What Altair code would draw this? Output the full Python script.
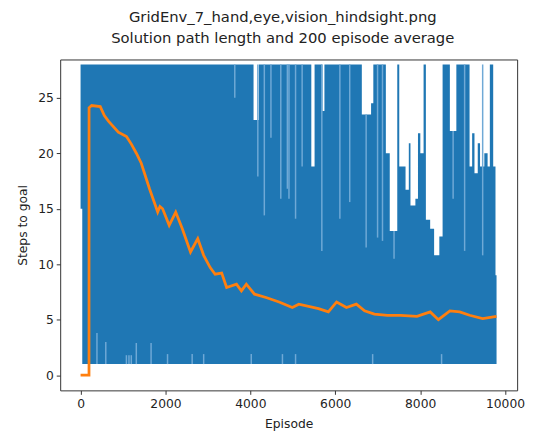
import altair as alt
import pandas as pd

# Upper / lower envelope of the per-episode "steps to goal" trace (step segments)
env_episode = [0, 40, 4075, 4199, 5436, 5513, 5698, 5745, 6626, 6844, 6897,
               7192, 7284, 7461, 7508, 7656, 7733, 7772, 7888, 7949, 8004,
               8081, 8135, 8236, 8329, 8452, 8529, 8700, 8853, 9164, 9225,
               9280, 9357, 9411, 9512, 9589, 9642, 9721, 9775, 9800]
env_top = [28, 28, 23, 28, 18.8, 28, 23.8, 28, 23.5, 24.5, 28,
           20.0, 13.0, 28, 18.8, 16.7, 20.9, 15.3, 15.9, 21.8, 20.0,
           28, 14.0, 13.2, 10.8, 12.5, 28, 22.0, 28, 18.8, 21.8,
           18.2, 20.9, 18.8, 20.0, 18.8, 28, 18.8, 9.0, 9.0]
env_low = [15, 1, 1, 1, 1, 1, 1, 1, 1, 1, 1,
           1, 1, 1, 1, 1, 1, 1, 1, 1, 1,
           1, 1, 1, 1, 1, 1, 1, 1, 1, 1,
           1, 1, 1, 1, 1, 1, 1, 1, 1]

# Sparser stretches of the trace (lighter streaks inside the dense band)
streak_episode = [3633, 4176, 4329, 4485, 4717, 4872, 4910, 5065, 5220, 5684,
                  6109, 6341, 6728, 6997, 7113, 7385, 8777, 9048, 9473,
                  386, 594, 1080, 1140, 1195, 1313, 1661, 2049, 2629, 2900,
                  4021, 4756, 5065, 6881, 8505]
streak_top = [28, 28, 28, 28, 28, 28, 28, 28, 28, 28,
              28, 28, 23.5, 28, 28, 13.0, 22.0, 28, 28,
              3.8, 3.0, 1.8, 1.8, 1.8, 2.9, 2.9, 1.9, 1.9, 1.9,
              1.9, 1.9, 1.9, 1.9, 1.9]
streak_bottom = [25.0, 17.9, 14.4, 21.4, 15.9, 16.8, 15.9, 14.1, 18.8, 11.2,
                 14.1, 15.6, 11.5, 12.4, 12.1, 10.5, 15.9, 11.2, 10.8,
                 1, 1, 1, 1, 1, 1, 1, 1, 1, 1,
                 1, 1, 1, 1, 1]

# 200-episode running average
avg_episode = [0, 199, 200, 260, 464, 560, 657, 889, 1082, 1200, 1314, 1430,
               1624, 1817, 1870, 1933, 2088, 2242, 2397, 2590, 2761, 2900,
               3054, 3170, 3325, 3441, 3673, 3789, 3905, 4098, 4369, 4677,
               4988, 5142, 5606, 5838, 6032, 6264, 6497, 6690, 6921, 7230,
               7540, 7926, 8237, 8430, 8700, 8933, 9165, 9473, 9800]
avg_value = [0, 0, 24.1, 24.3, 24.2, 23.4, 22.9, 21.9, 21.5, 20.8, 20.0, 19.1,
             16.8, 14.7, 15.2, 15.0, 13.5, 14.7, 13.2, 11.1, 12.3, 10.8,
             9.7, 9.1, 9.2, 7.9, 8.2, 7.6, 8.2, 7.3, 7.0, 6.6,
             6.1, 6.4, 6.0, 5.7, 6.6, 6.1, 6.4, 5.8, 5.5, 5.4,
             5.4, 5.3, 5.7, 5.0, 5.8, 5.7, 5.4, 5.1, 5.3]

x_ticks = [0, 2000, 4000, 6000, 8000, 10000]
y_ticks = [0, 5, 10, 15, 20, 25]

env_df = pd.DataFrame({"episode": env_episode, "top": env_top, "low": env_low})
streak_df = pd.DataFrame({"episode": streak_episode, "top": streak_top,
                          "bottom": streak_bottom})
avg_df = pd.DataFrame({"episode": avg_episode, "avg": avg_value})

FONT = "DejaVu Sans"
xscale = alt.Scale(domain=[-480, 10285], nice=False, zero=False)
yscale = alt.Scale(domain=[-1.37, 28.45], nice=False, zero=False)

xaxis = alt.Axis(title="Episode", values=x_ticks, grid=False, format="d",
                 labelFlush=False, labelOverlap=False)
yaxis = alt.Axis(title="Steps to goal", values=y_ticks, grid=False, format="d")

steps = alt.Chart(env_df).mark_area(
    interpolate="step-after", color="#1f77b4", opacity=1
).encode(
    x=alt.X("episode:Q", scale=xscale, axis=xaxis),
    y=alt.Y("top:Q", scale=yscale, axis=yaxis),
    y2="low:Q",
)

streaks = alt.Chart(streak_df).mark_rule(
    color="#6fa9d6", strokeWidth=1.5
).encode(
    x=alt.X("episode:Q", scale=xscale),
    y=alt.Y("top:Q", scale=yscale),
    y2="bottom:Q",
)

avg = alt.Chart(avg_df).mark_line(color="#ff7f0e", strokeWidth=2.8).encode(
    x=alt.X("episode:Q", scale=xscale),
    y=alt.Y("avg:Q", scale=yscale),
)

chart = alt.layer(steps, streaks, avg).properties(
    width=464,
    height=336,
    autosize=alt.AutoSizeParams(type="none"),
    padding={"left": 53, "top": 49, "right": 9, "bottom": 40},
    title=alt.Title(
        ["GridEnv_7_hand,eye,vision_hindsight.png",
         "Solution path length and 200 episode average"],
        fontSize=15, font=FONT, fontWeight="normal", color="#222",
        lineHeight=21, offset=14, anchor="middle", dx=-6,
    ),
).configure_view(
    stroke="#333", strokeWidth=1
).configure_axis(
    domain=False, tickColor="#333", tickSize=4, tickWidth=1,
    labelFont=FONT, labelFontSize=12.5, labelColor="#222", labelPadding=3,
    titleFont=FONT, titleFontSize=12.5, titleColor="#222", titleFontWeight="normal",
).configure_axisX(titlePadding=8).configure_axisY(titlePadding=8)

chart.save("out.html", embed_options={"renderer": "svg", "actions": False})
